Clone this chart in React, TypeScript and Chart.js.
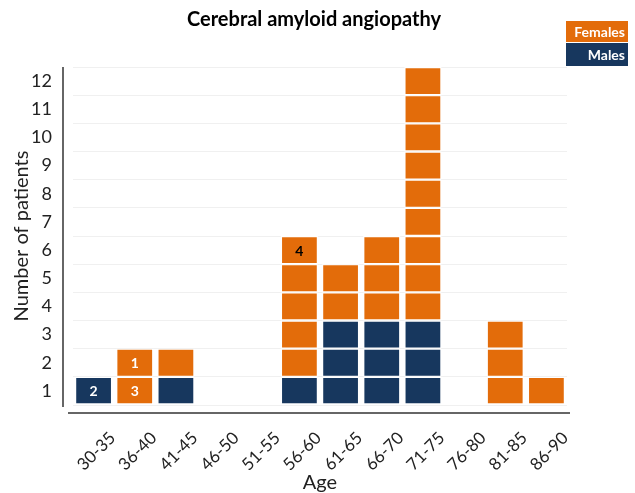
import React, { useEffect, useRef } from "react";
import { Chart, registerables } from "chart.js";

Chart.register(...registerables);

const categories = ["30-35", "36-40", "41-45", "46-50", "51-55", "56-60", "61-65", "66-70", "71-75", "76-80", "81-85", "86-90"];
const males = [1, 0, 1, 0, 0, 1, 3, 3, 3, 0, 0, 0];
const females = [0, 2, 1, 0, 0, 5, 2, 3, 9, 0, 3, 1];
const yTickLabels = ["1", "2", "3", "4", "5", "6", "7", "8", "9", "10", "11", "12"];
const seriesNames = ["Females", "Males"];
const cellNotes = [
  { cat: "30-35", level: 1, text: "2", color: "#ffffff" },
  { cat: "36-40", level: 1, text: "3", color: "#ffffff" },
  { cat: "36-40", level: 2, text: "1", color: "#ffffff" },
  { cat: "56-60", level: 6, text: "4", color: "#000000" },
];

const ORANGE = "#E36C0A";
const NAVY = "#17375E";
const FONT = "Lato, 'Open Sans', sans-serif";

export default function App() {
  const ref = useRef<HTMLCanvasElement>(null);
  useEffect(() => {
    const totals = categories.map((_, i) => males[i] + females[i]);
    const maxLevel = Math.max(...totals);
    const datasets = [] as any[];
    for (let k = 1; k <= maxLevel; k++) {
      datasets.push({
        label: "level" + k,
        data: totals.map((t) => (t >= k ? 1 : null)),
        backgroundColor: totals.map((_, i) => (k <= males[i] ? NAVY : ORANGE)),
        borderColor: "#ffffff",
        borderWidth: 1.2,
        borderSkipped: false,
        stack: "s",
        barPercentage: 0.93,
        categoryPercentage: 0.97,
        yAxisID: "y",
      });
    }
    const deco = {
      id: "deco",
      afterDatasetsDraw(chart: any) {
        const ctx = chart.ctx;
        const a = chart.chartArea;
        ctx.save();
        ctx.font = "bold 14px " + FONT;
        ctx.textAlign = "center";
        ctx.textBaseline = "middle";
        cellNotes.forEach((n) => {
          const idx = categories.indexOf(n.cat);
          const el = chart.getDatasetMeta(n.level - 1).data[idx];
          if (!el) return;
          ctx.fillStyle = n.color;
          ctx.fillText(n.text, el.x, (el.y + el.base) / 2 + 1);
        });
        ctx.strokeStyle = "#333";
        ctx.lineWidth = 1.5;
        ctx.beginPath();
        ctx.moveTo(a.left - 10, a.top);
        ctx.lineTo(a.left - 10, a.bottom + 2);
        ctx.stroke();
        ctx.beginPath();
        ctx.moveTo(a.left - 5, a.bottom + 8);
        ctx.lineTo(a.right + 3, a.bottom + 8);
        ctx.stroke();
        ctx.fillStyle = "#000";
        ctx.font = "bold 20px " + FONT;
        ctx.textAlign = "center";
        ctx.fillText("Cerebral amyloid angiopathy", 314, 20);
        const colors = [ORANGE, NAVY];
        const boxes = [
          [566, 21, 62, 21],
          [566, 43, 62, 23],
        ];
        seriesNames.forEach((name, i) => {
          const [x, y, w, h] = boxes[i];
          ctx.fillStyle = colors[i];
          ctx.fillRect(x, y, w, h);
          ctx.fillStyle = "#fff";
          ctx.font = "bold 14px " + FONT;
          ctx.textAlign = "right";
          ctx.fillText(name, x + w - 3, y + h / 2 + 1);
        });
        ctx.restore();
      },
    };
    const chart = new Chart(ref.current!, {
      type: "bar",
      data: { labels: categories, datasets },
      options: {
        animation: false,
        responsive: false,
        maintainAspectRatio: false,
        layout: { padding: { top: 67, right: 68, left: 0, bottom: 0 } },
        plugins: { legend: { display: false }, tooltip: { enabled: false }, title: { display: false } },
        scales: {
          x: {
            stacked: true,
            grid: { display: false },
            border: { display: false },
            ticks: {
              color: "#222",
              font: { family: FONT, size: 17 },
              maxRotation: 45,
              minRotation: 45,
              padding: 15,
              labelOffset: 19,
            },
            title: { display: true, text: "Age", color: "#222", font: { family: FONT, size: 20 }, padding: { top: 0, bottom: -2 } },
            afterFit: (s: any) => {
              s.height = 88;
            },
          },
          y: {
            stacked: true,
            display: true,
            min: 0,
            max: 12,
            position: "left",
            ticks: { display: false, stepSize: 1 },
            grid: { color: "rgba(0,0,0,0.06)", drawTicks: false },
            border: { display: false },
            afterFit: (s: any) => {
              s.width = 0;
            },
          },
          y2: {
            type: "category",
            labels: yTickLabels,
            reverse: true,
            position: "left",
            offset: true,
            grid: { display: false },
            border: { display: false },
            ticks: { color: "#222", font: { family: FONT, size: 18 }, padding: 13 },
            title: { display: true, text: "Number of patients", color: "#222", font: { family: FONT, size: 20 }, padding: { top: 10, bottom: 0 } },
            afterFit: (s: any) => {
              s.width = 73;
            },
          },
        },
      },
      plugins: [deco],
    });
    return () => chart.destroy();
  }, []);
  return (
    <div style={{ position: "absolute", left: 0, top: 0, width: 635, height: 493 }}>
      <canvas ref={ref} width={635} height={493} />
    </div>
  );
}
